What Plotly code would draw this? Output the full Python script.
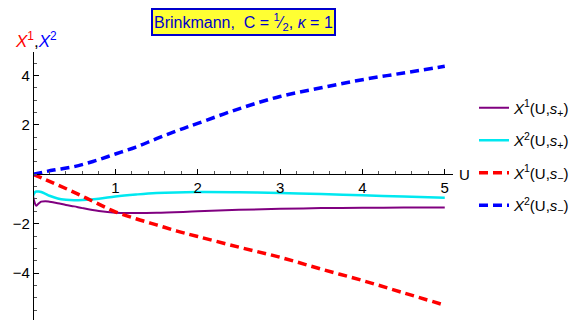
import plotly.graph_objects as go

u_plus = [0.0, 0.02, 0.04, 0.07, 0.1, 0.15, 0.2, 0.3, 0.4, 0.5, 0.6, 0.8, 1.0, 1.25, 1.5,
          2.0, 2.5, 3.0, 3.5, 4.0, 4.5, 5.0]
x1_plus = [-0.88, -1.15, -1.27, -1.18, -1.11, -1.09, -1.11, -1.17, -1.24, -1.3, -1.37, -1.49,
           -1.56, -1.57, -1.56, -1.5, -1.44, -1.4, -1.37, -1.36, -1.35, -1.35]
x2_plus = [-0.88, -0.74, -0.7, -0.7, -0.72, -0.79, -0.87, -0.98, -1.03, -1.05, -1.04, -0.99,
           -0.9, -0.82, -0.76, -0.72, -0.73, -0.76, -0.8, -0.85, -0.9, -0.95]

u_minus = [0.0, 0.25, 0.5, 0.75, 1.0, 1.25, 1.5, 1.75, 2.0, 2.5, 3.0, 3.5, 4.0, 4.5, 5.0]
x1_minus = [0.0, -0.36, -0.73, -1.13, -1.52, -1.8, -2.05, -2.3, -2.52, -2.95, -3.36, -3.84,
            -4.3, -4.8, -5.3]
x2_minus = [0.0, 0.17, 0.31, 0.54, 0.82, 1.1, 1.44, 1.76, 2.06, 2.65, 3.15, 3.5, 3.83, 4.1, 4.37]

x_ticks = [1, 2, 3, 4, 5]
y_ticks = [-4, -2, 2, 4]

x_range = [0, 5.1]
y_range = [-5.9, 4.95]

FONT = "Arial, Liberation Sans, sans-serif"

fig = go.Figure()

series = [
    (u_plus, x1_plus, "<i>X</i><sup>1</sup>(U,<i>s</i><sub>+</sub>)", "#800080", 2, None),
    (u_plus, x2_plus, "<i>X</i><sup>2</sup>(U,<i>s</i><sub>+</sub>)", "#00E8F0", 2.5, None),
    (u_minus, x1_minus, "<i>X</i><sup>1</sup>(U,<i>s</i><sub>\u2212</sub>)", "#FF0000", 3.5, "9px,5px"),
    (u_minus, x2_minus, "<i>X</i><sup>2</sup>(U,<i>s</i><sub>\u2212</sub>)", "#0000FF", 3.5, "9px,5px"),
]
for i, (u, v, name, color, width, dash) in enumerate(series):
    fig.add_trace(go.Scatter(
        x=u, y=v, name=name, mode="lines", legendgroup=f"g{i}",
        line=dict(color=color, width=width, dash=dash, shape="spline", smoothing=1),
    ))

zero_pos = (0 - y_range[0]) / (y_range[1] - y_range[0])

# the page body adds an 8px offset, so the figure is 8px smaller on each axis
fig.update_layout(
    width=569, height=314,
    margin=dict(l=25, r=122, t=44, b=2),
    plot_bgcolor="white", paper_bgcolor="white",
    font=dict(family=FONT, size=14, color="black"),
    xaxis=dict(
        range=x_range, anchor="free", position=zero_pos, showgrid=False, zeroline=False,
        showline=True, linecolor="black", linewidth=1.2,
        tickvals=x_ticks, ticks="inside", ticklen=5, tickcolor="black",
        minor=dict(dtick=0.2, ticks="inside", ticklen=3, tickcolor="#555"),
        tickfont=dict(size=15),
    ),
    yaxis=dict(
        range=y_range, anchor="free", position=0, showgrid=False, zeroline=False,
        showline=True, linecolor="black", linewidth=1.2,
        tickvals=y_ticks, ticks="inside", ticklen=5, tickcolor="black",
        minor=dict(dtick=0.5, ticks="inside", ticklen=3, tickcolor="#555"),
        tickfont=dict(size=15),
    ),
    legend=dict(
        x=1.05, y=0.853, xanchor="left", yanchor="top",
        font=dict(size=15), itemwidth=30, tracegroupgap=10,
        bgcolor="rgba(0,0,0,0)",
    ),
    showlegend=True,
)

fig.add_annotation(
    text="Brinkmann,  C = <sup>1</sup>\u2044<sub>2</sub>, <i>\u03ba</i> = 1",
    xref="paper", yref="paper", x=0.5, y=1.164, xanchor="center", yanchor="top",
    showarrow=False, font=dict(size=16, color="#0000CC"),
    bgcolor="#FFFF33", bordercolor="#0000CC", borderwidth=2, borderpad=1,
)
fig.add_annotation(
    text="<span style='color:red'><i>X</i><sup>1</sup></span>,"
         "<span style='color:blue'><i>X</i><sup>2</sup></span>",
    xref="paper", yref="paper", x=0.007, y=1.045, xanchor="center", yanchor="middle",
    showarrow=False, font=dict(size=17),
)
fig.add_annotation(
    text="U", xref="paper", yref="y", x=1.01, y=0, xanchor="left", yanchor="middle",
    showarrow=False, font=dict(size=15),
)

fig.write_html("out.html")
